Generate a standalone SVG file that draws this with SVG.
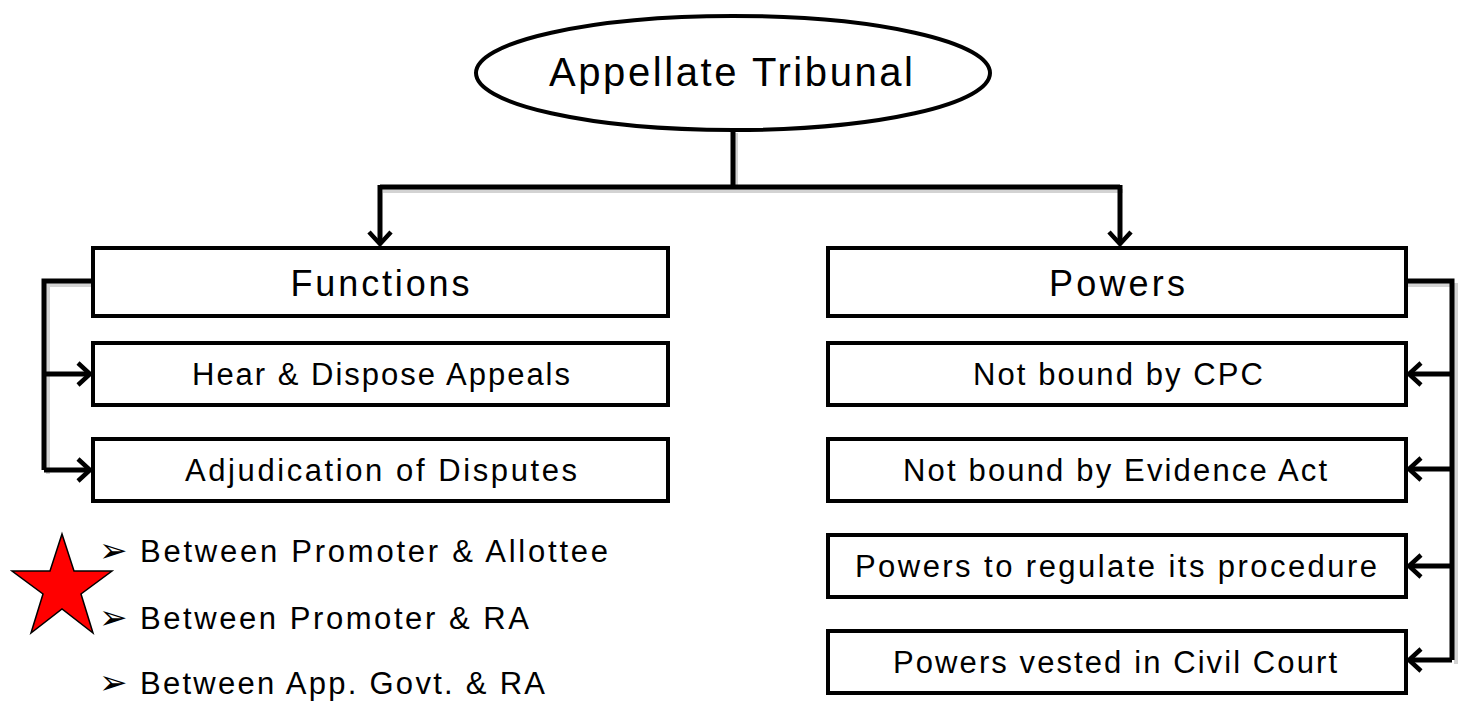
<svg xmlns="http://www.w3.org/2000/svg" width="1460" height="702" viewBox="0 0 1460 702">
<defs>
<marker id="arr" markerUnits="userSpaceOnUse" markerWidth="30" markerHeight="30" refX="14" refY="12" orient="auto" viewBox="0 0 30 24">
<path d="M2,1 L14,12 L2,23" fill="none" stroke="#000" stroke-width="4.5" stroke-linejoin="miter"/>
</marker>
</defs>
<style>
.box{fill:#fff;stroke:#000;stroke-width:4}
.ln{fill:none;stroke:#000;stroke-width:5}
.sh{fill:none;stroke:#c8c8c8;stroke-width:4}
.t{font-family:"Liberation Sans",Arial,sans-serif;fill:#000;text-anchor:middle;dominant-baseline:central}
.b{font-family:"Liberation Sans",Arial,sans-serif;fill:#000;font-size:31px}
.bul{font-family:"DejaVu Sans",sans-serif;font-size:34px;fill:#000}
</style>
<g id="connectors">
<g opacity="0.8">
<path class="sh" d="M736,133 V191 M383,191 H1123"/>
<path class="sh" d="M96,285 H48 V474"/>
<path class="sh" d="M1408,285 H1456 V664"/>
</g>
<path class="ln" d="M733,130 V187"/>
<path class="ln" d="M380,187 H1120"/>
<path class="ln" d="M380,185 V244" marker-end="url(#arr)"/>
<path class="ln" d="M1120,185 V244" marker-end="url(#arr)"/>
<path class="ln" d="M93,281 H44 V470"/>
<path class="ln" d="M44,374 H90" marker-end="url(#arr)"/>
<path class="ln" d="M44,470 H90" marker-end="url(#arr)"/>
<path class="ln" d="M1406,281 H1452 V660"/>
<path class="ln" d="M1452,374 H1409" marker-end="url(#arr)"/>
<path class="ln" d="M1452,469 H1409" marker-end="url(#arr)"/>
<path class="ln" d="M1452,566 H1409" marker-end="url(#arr)"/>
<path class="ln" d="M1452,660 H1409" marker-end="url(#arr)"/>
</g>
<g id="root">
<ellipse cx="733" cy="73" rx="257" ry="57" fill="#fff" stroke="#000" stroke-width="4"/>
<text class="t" x="731" y="72" font-size="40" textLength="364" lengthAdjust="spacing">Appellate Tribunal</text>
</g>
<g id="functions">
<rect class="box" x="93" y="248" width="575" height="68"/>
<text class="t" x="380" y="283" font-size="36" textLength="179" lengthAdjust="spacing">Functions</text>
</g>
<g id="hear">
<rect class="box" x="93" y="343" width="575" height="62"/>
<text class="t" x="381" y="374" font-size="31" textLength="378" lengthAdjust="spacing">Hear &amp; Dispose Appeals</text>
</g>
<g id="adjudication">
<rect class="box" x="93" y="439" width="575" height="62"/>
<text class="t" x="381" y="470" font-size="31" textLength="392" lengthAdjust="spacing">Adjudication of Disputes</text>
</g>
<g id="powers">
<rect class="box" x="828" y="248" width="578" height="68"/>
<text class="t" x="1117" y="283" font-size="36" textLength="136" lengthAdjust="spacing">Powers</text>
</g>
<g id="cpc">
<rect class="box" x="828" y="343" width="578" height="62"/>
<text class="t" x="1118" y="374" font-size="31" textLength="290" lengthAdjust="spacing">Not bound by CPC</text>
</g>
<g id="evidence">
<rect class="box" x="828" y="439" width="578" height="62"/>
<text class="t" x="1115" y="470" font-size="31" textLength="424" lengthAdjust="spacing">Not bound by Evidence Act</text>
</g>
<g id="regulate">
<rect class="box" x="828" y="535" width="578" height="62"/>
<text class="t" x="1116" y="566" font-size="31" textLength="522" lengthAdjust="spacing">Powers to regulate its procedure</text>
</g>
<g id="vested">
<rect class="box" x="828" y="631" width="578" height="62"/>
<text class="t" x="1115" y="662" font-size="31" textLength="444" lengthAdjust="spacing">Powers vested in Civil Court</text>
</g>
<g id="star">
<polygon points="62,534 74,571 112,571 81,594 93,633 62,609 31,633 43,594 12,571 50,571" fill="#f00" stroke="#000" stroke-width="1.5" stroke-linejoin="miter"/>
</g>
<g id="bullets">
<text class="bul" x="99" y="562">➢</text>
<text class="b" x="140" y="562" textLength="468" lengthAdjust="spacing">Between Promoter &amp; Allottee</text>
<text class="bul" x="99" y="629">➢</text>
<text class="b" x="140" y="629" textLength="389" lengthAdjust="spacing">Between Promoter &amp; RA</text>
<text class="bul" x="99" y="694">➢</text>
<text class="b" x="140" y="694" textLength="405" lengthAdjust="spacing">Between App. Govt. &amp; RA</text>
</g>
</svg>
